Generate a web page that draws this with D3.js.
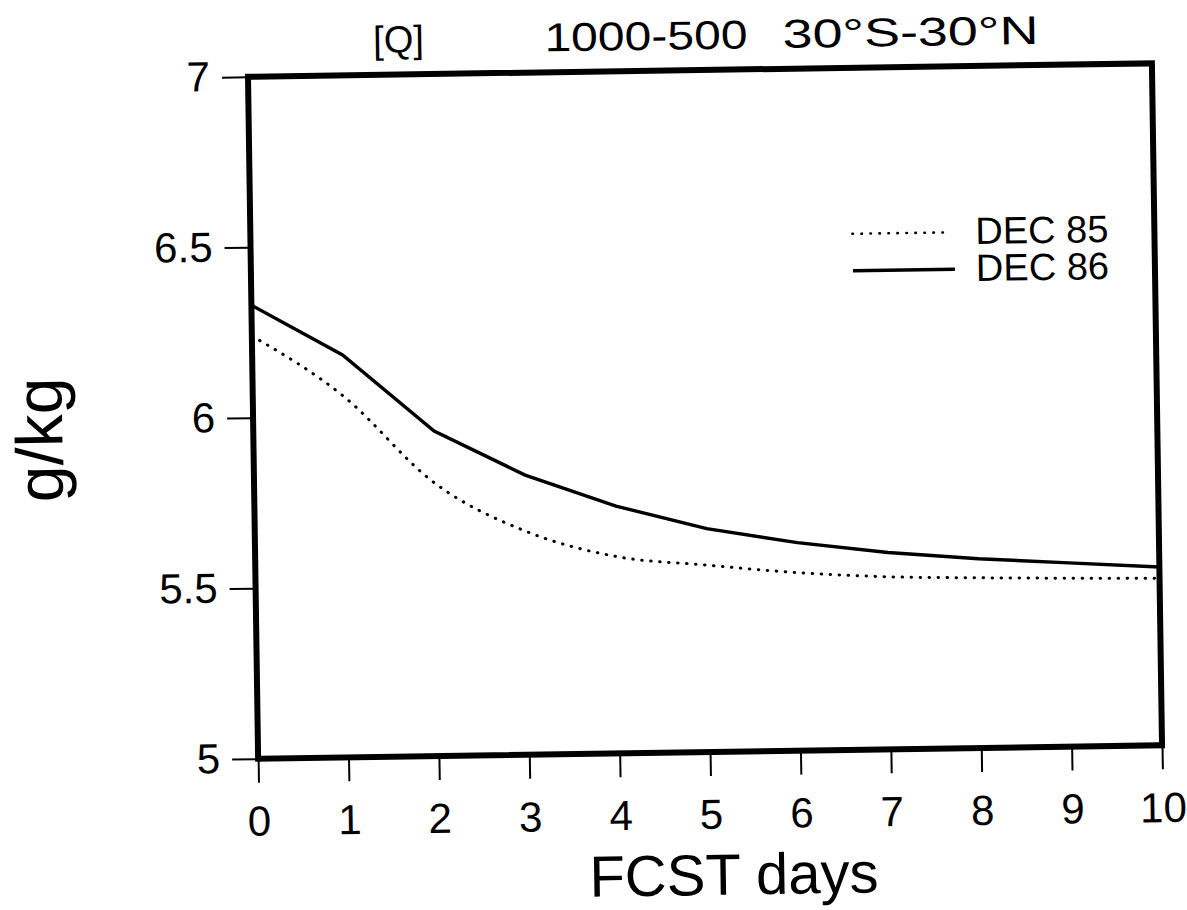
<!DOCTYPE html>
<html>
<head>
<meta charset="utf-8">
<script src="https://cdn.jsdelivr.net/npm/d3@7"></script>
<style>
body { margin: 0; background: #fff; }
svg { display: block; font-family: 'Liberation Sans', Arial, sans-serif; }
</style>
</head>
<body>
<svg></svg>
<script>
// values (g/kg, 1000-500 hPa, 30S-30N)
let days = [0, 1, 2, 3, 4, 5, 6, 7, 8, 9, 10]
let dec85 = [6.24, 6.06, 5.80, 5.655, 5.577, 5.548, 5.522, 5.506, 5.499, 5.494, 5.49]
let dec86 = [6.33, 6.18, 5.953, 5.82, 5.725, 5.655, 5.61, 5.577, 5.555, 5.539, 5.523]
let seriesNames = ['DEC 85', 'DEC 86']
let xTicks = [0, 1, 2, 3, 4, 5, 6, 7, 8, 9, 10]
let yTicks = [5, 5.5, 6, 6.5, 7]
let titleLeft = '[Q]'
let titleMid = '1000-500'
let titleRight = '30°S-30°N'
let xLabel = 'FCST days'
let yLabel = 'g/kg'

let width = 1187
let height = 910
let plotLeft = 253, plotRight = 1157, plotTop = 70, plotBottom = 752

let svg = d3.select('svg')
    .attr('width', width)
    .attr('height', height)

// the scan is a little tilted, so the whole chart is too
let g = svg.append('g')
    .attr('transform', 'rotate(-0.85, 706, 410)')

let xScale = d3.scaleLinear()
    .domain([0, 10])
    .range([plotLeft, plotRight])

let yScale = d3.scaleLinear()
    .domain([5, 7])
    .range([plotBottom, plotTop])

drawAxes = () => {
    let xAxis = d3.axisBottom(xScale)
        .tickValues(xTicks)
        .tickSize(24)
        .tickPadding(23)
        .tickFormat(d3.format('d'))

    let yAxis = d3.axisLeft(yScale)
        .tickValues(yTicks)
        .tickSize(26)
        .tickPadding(12)
        .tickFormat((d) => String(d))

    let gx = g.append('g')
        .attr('transform', 'translate(0,' + plotBottom + ')')
        .call(xAxis)
    gx.select('.domain').remove()
    gx.selectAll('line').attr('stroke', '#000').attr('stroke-width', 2)
    gx.selectAll('text')
        .attr('fill', '#000')
        .style('font-size', '42px')
        .style('font-family', "'Liberation Sans', Arial, sans-serif")

    let gy = g.append('g')
        .attr('transform', 'translate(' + plotLeft + ',0)')
        .call(yAxis)
    gy.select('.domain').remove()
    gy.selectAll('line').attr('stroke', '#000').attr('stroke-width', 2)
    gy.selectAll('text')
        .attr('fill', '#000')
        .style('font-size', '42px')
        .style('font-family', "'Liberation Sans', Arial, sans-serif")
}

drawLines = () => {
    let line85 = d3.line()
        .x((d, i) => xScale(days[i]))
        .y((d) => yScale(d))
        .curve(d3.curveMonotoneX)

    let line86 = d3.line()
        .x((d, i) => xScale(days[i]))
        .y((d) => yScale(d))

    g.append('path')
        .datum(dec85)
        .attr('d', line85)
        .attr('fill', 'none')
        .attr('stroke', '#000')
        .attr('stroke-width', 3)
        .attr('stroke-linecap', 'round')
        .attr('stroke-dasharray', '0.5,8.5')

    g.append('path')
        .datum(dec86)
        .attr('d', line86)
        .attr('fill', 'none')
        .attr('stroke', '#000')
        .attr('stroke-width', 3.4)
}

drawFrame = () => {
    g.append('rect')
        .attr('x', xScale(0))
        .attr('y', yScale(7))
        .attr('width', xScale(10) - xScale(0))
        .attr('height', yScale(5) - yScale(7))
        .attr('fill', 'none')
        .attr('stroke', '#000')
        .attr('stroke-width', 6)
}

drawLegend = () => {
    let lg = g.append('g')
    seriesNames.forEach((name, i) => {
        let y = 236 + i * 37
        lg.append('line')
            .attr('x1', 855).attr('x2', i == 0 ? 951 : 957)
            .attr('y1', y).attr('y2', y)
            .attr('stroke', '#000')
            .attr('stroke-width', i == 0 ? 2.6 : 3.4)
            .attr('stroke-linecap', i == 0 ? 'round' : 'butt')
            .attr('stroke-dasharray', i == 0 ? '0.5,8.5' : null)
        lg.append('text')
            .attr('x', 978)
            .attr('y', y + 12)
            .style('font-size', '38px')
            .text(name)
    })
}

drawText = () => {
    g.append('text')
        .attr('x', 404)
        .attr('y', 48)
        .attr('text-anchor', 'middle')
        .style('font-size', '38px')
        .text(titleLeft)

    g.append('text')
        .attr('x', 550)
        .attr('y', 49)
        .attr('textLength', 203)
        .attr('lengthAdjust', 'spacingAndGlyphs')
        .style('font-size', '40px')
        .text(titleMid)

    g.append('text')
        .attr('x', 788)
        .attr('y', 49)
        .attr('textLength', 256)
        .attr('lengthAdjust', 'spacingAndGlyphs')
        .style('font-size', '40px')
        .text(titleRight)

    g.append('text')
        .attr('x', 727)
        .attr('y', 895)
        .attr('text-anchor', 'middle')
        .style('font-size', '58px')
        .text(xLabel)

    g.append('text')
        .attr('transform', 'translate(62,430) rotate(-90)')
        .attr('text-anchor', 'middle')
        .style('font-size', '66px')
        .text(yLabel)
}

drawLines()
drawFrame()
drawAxes()
drawLegend()
drawText()
</script>
</body>
</html>
